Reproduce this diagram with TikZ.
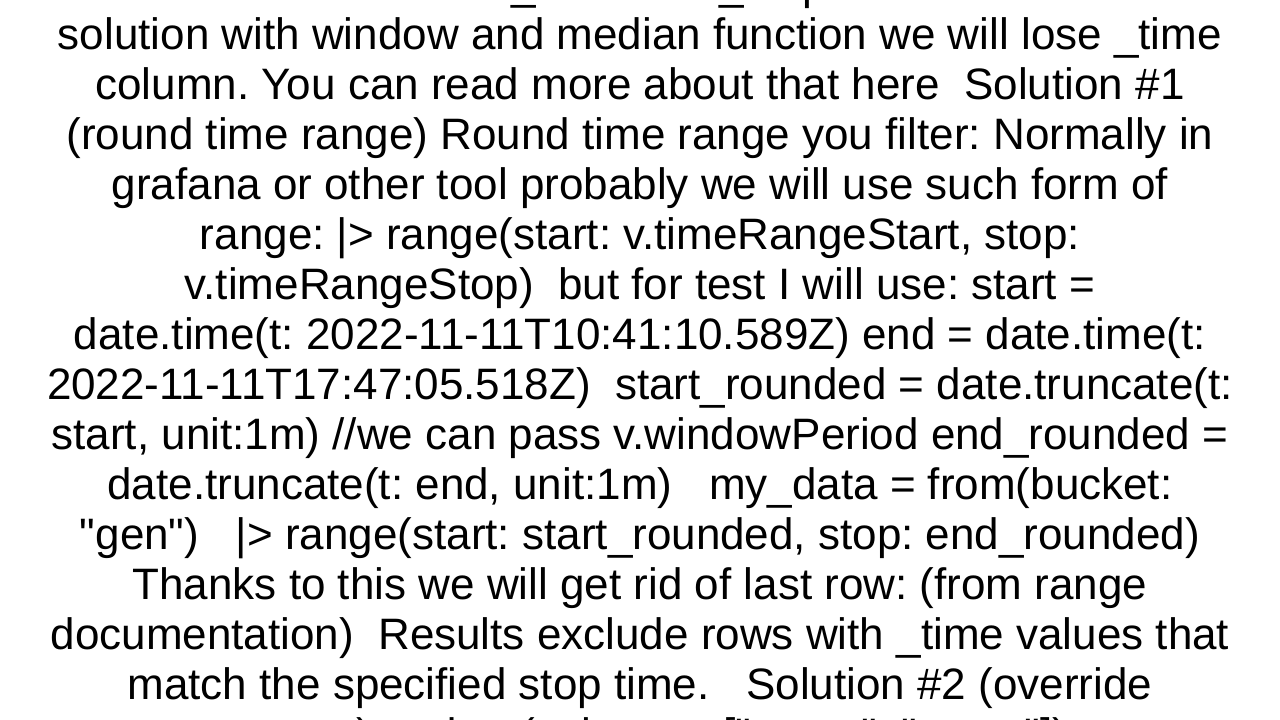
\documentclass[tikz,border=0pt]{standalone}
\usepackage{fontspec}
\setmainfont{Liberation Sans}
\setmonofont{Liberation Sans}
\frenchspacing
\newcommand{\dq}{{\ttfamily\char34}}
\begin{document}
\begin{tikzpicture}[x=1pt,y=1pt,ln/.style={anchor=base,inner sep=0pt,font=\fontsize{44}{50}\selectfont}]
\useasboundingbox (0,0) rectangle (1280,720);
\begin{scope}
\clip (0,0) rectangle (1280,720);
\node[ln] (l1) at (640,720) {because we have \_start and \_stop. Also if we use};
\node[ln] (l2) at (640,670) {solution with window and median function we will lose \_time};
\node[ln] (l3) at (640,620) {column. You can read more about that here\ \ Solution \#1};
\node[ln] (l4) at (640,570) {(round time range) Round time range you filter: Normally in};
\node[ln] (l5) at (640,520) {grafana or other tool probably we will use such form of};
\node[ln] (l6) at (640,470) {range: |> range(start: v.timeRangeStart, stop:};
\node[ln] (l7) at (640,420) {v.timeRangeStop)\ \ but for test I will use: start =};
\node[ln] (l8) at (640,370) {date.time(t: 2022-11-11T10:41:10.589Z) end = date.time(t:};
\node[ln] (l9) at (640,320) {2022-11-11T17:47:05.518Z)\ \ start\_rounded = date.truncate(t:};
\node[ln] (l10) at (640,270) {start, unit:1m) //we can pass v.windowPeriod end\_rounded =};
\node[ln] (l11) at (640,220) {date.truncate(t: end, unit:1m)\ \ \ my\_data = from(bucket:};
\node[ln] (l12) at (640,170) {\dq gen\dq)\ \ \ |> range(start: start\_rounded, stop: end\_rounded)};
\node[ln] (l13) at (640,120) {Thanks to this we will get rid of last row: (from range};
\node[ln] (l14) at (640,70) {documentation)\ \ Results exclude rows with \_time values that};
\node[ln] (l15) at (640,20) {match the specified stop time.\ \ \ Solution \#2 (override};
\node[ln] (l16) at (640,-30) {start, stop) ... drop(columns: [\dq\_start\dq, \dq\_stop\dq]) ...};
\end{scope}
\end{tikzpicture}
\end{document}
